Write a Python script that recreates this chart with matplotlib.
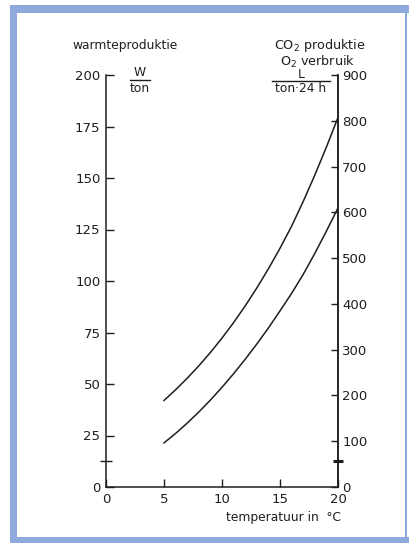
import matplotlib
matplotlib.use("Agg")
import matplotlib.pyplot as plt
from matplotlib.patches import Rectangle
from matplotlib.lines import Line2D

# ---- data ----
temperature = [5, 6, 7, 8, 9, 10, 11, 12, 13, 14, 15, 16, 17, 18, 19, 20]
upper_curve = [42.0, 47.2, 52.8, 58.8, 65.3, 72.3, 79.8, 87.9, 96.6, 105.9, 115.9, 126.6, 138.6, 151.4, 165.0, 179.4]
lower_curve = [21.4, 26.0, 31.0, 36.4, 42.2, 48.4, 55.0, 62.0, 69.4, 77.2, 85.5, 94.0, 103.2, 113.4, 124.2, 135.5]
x_ticks = [0, 5, 10, 15, 20]
left_ticks = [0, 25, 50, 75, 100, 125, 150, 175, 200]
right_ticks = [0, 100, 200, 300, 400, 500, 600, 700, 800, 900]
left_mark = [12.5]
right_mark = [56]

W, H = 409, 543
fig = plt.figure(figsize=(W / 100, H / 100), dpi=100)
fig.patch.set_facecolor("white")

def fx(x):
    return x / W

def fy(y):
    return 1 - y / H

ink = "#1e1e1e"
blue = "#8eaadc"

# border
for (x0, y0, x1, y1) in [(10, 5, 17, 543), (10, 5, 409, 13), (10, 537, 409, 543), (405, 5, 407, 543)]:
    fig.patches.append(Rectangle((fx(x0), fy(y1)), fx(x1) - fx(x0), fy(y0) - fy(y1),
                                 transform=fig.transFigure, facecolor=blue, edgecolor="none", zorder=0))

left, right, bottom, top = 106, 338, 487, 75
ax = fig.add_axes([fx(left), fy(bottom), fx(right) - fx(left), fy(top) - fy(bottom)])
ax.set_facecolor("none")
ax.plot(temperature, upper_curve, color=ink, lw=1.1, solid_joinstyle="round")
ax.plot(temperature, lower_curve, color=ink, lw=1.1, solid_joinstyle="round")
ax.set_xlim(0, 20)
ax.set_ylim(0, 200)
ax.set_xticks(x_ticks)
ax.set_yticks(left_ticks)
ax.set_yticks(left_mark, minor=True)
ax.spines["top"].set_visible(False)
for s in ("left", "bottom", "right"):
    ax.spines[s].set_color(ink)
    ax.spines[s].set_linewidth(1.1)
ax.tick_params(axis="both", which="major", direction="in", length=6, width=1.0,
               color=ink, labelcolor=ink, labelsize=9.5, pad=4)
ax.tick_params(axis="y", which="minor", direction="inout", length=9, width=1.0, color=ink)

ax2 = ax.twinx()
ax2.set_ylim(0, 900)
ax2.set_yticks(right_ticks)
ax2.set_yticks(right_mark, minor=True)
for s in ("top", "left", "bottom"):
    ax2.spines[s].set_visible(False)
ax2.spines["right"].set_color(ink)
ax2.spines["right"].set_linewidth(1.1)
ax2.tick_params(axis="y", which="major", direction="in", length=5, width=1.0,
                color=ink, labelcolor=ink, labelsize=9.5, pad=3)
ax2.tick_params(axis="y", which="minor", direction="inout", length=7, width=2.2, color=ink)

fs = 8.8
fig.text(fx(72), fy(45), "warmteproduktie", fontsize=fs, color=ink, ha="left", va="center")
fig.text(fx(341), fy(517), "temperatuur in  °C", fontsize=fs, color=ink, ha="right", va="center")

# W / ton
fig.text(fx(140), fy(72), "W", fontsize=fs, color=ink, ha="center", va="center")
fig.lines.append(Line2D([fx(130), fx(150)], [fy(80), fy(80)], transform=fig.transFigure, color=ink, lw=1.0))
fig.text(fx(140), fy(88), "ton", fontsize=fs, color=ink, ha="center", va="center")

# right header
fig.text(fx(320), fy(46), "CO$_2$ produktie", fontsize=9.2, color=ink, ha="center", va="center")
fig.text(fx(318), fy(62), "O$_2$ verbruik", fontsize=9.2, color=ink, ha="center", va="center")
fig.text(fx(301), fy(75), "L", fontsize=fs, color=ink, ha="center", va="center")
fig.lines.append(Line2D([fx(272), fx(330)], [fy(81), fy(81)], transform=fig.transFigure, color=ink, lw=1.0))
fig.text(fx(301), fy(89), "ton·24 h", fontsize=fs, color=ink, ha="center", va="center")

fig.savefig("out.png", dpi=100, facecolor="white")
